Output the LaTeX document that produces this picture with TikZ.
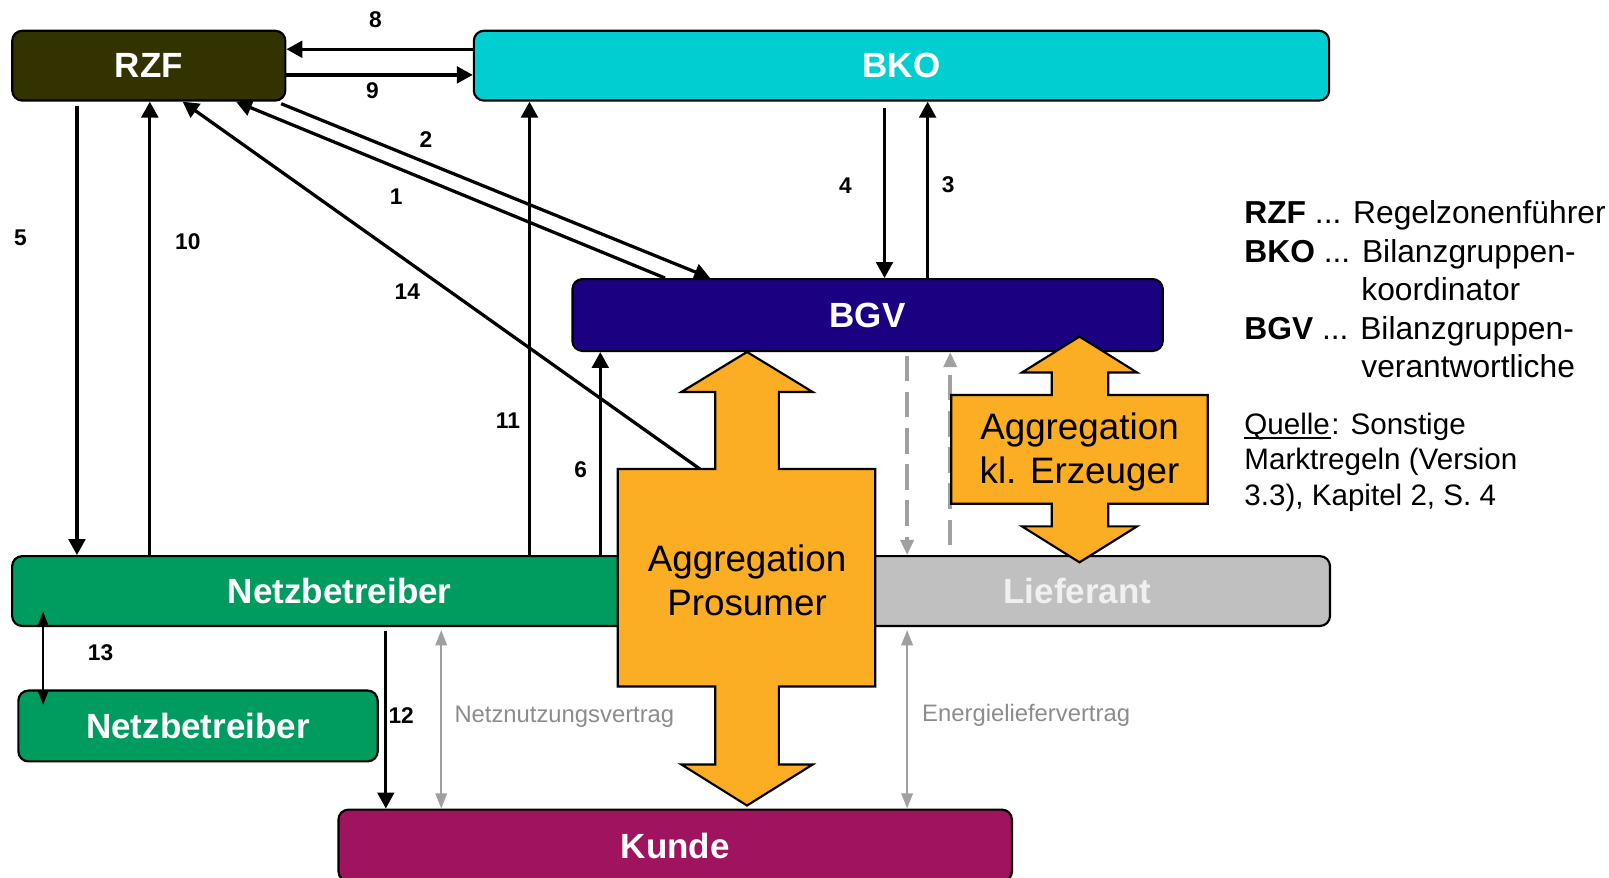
\documentclass[tikz,border=0pt]{standalone}
\usepackage{fontspec}
\setmainfont{Liberation Sans}
\usetikzlibrary{arrows.meta,calc}
\definecolor{rzfc}{RGB}{51,51,0}
\definecolor{bkoc}{RGB}{0,206,209}
\definecolor{bgvc}{RGB}{27,0,130}
\definecolor{nbc}{RGB}{0,155,95}
\definecolor{liefc}{RGB}{192,192,192}
\definecolor{lieftxt}{RGB}{240,240,240}
\definecolor{kundec}{RGB}{160,20,95}
\definecolor{orangec}{RGB}{251,173,36}
\definecolor{grayarr}{RGB}{160,160,160}
\definecolor{graytxt}{RGB}{140,140,140}
\begin{document}
\begin{tikzpicture}[x=0.01cm,y=-0.01cm,
  box/.style={draw=black, line width=0.6pt, rounded corners=2.8pt, inner sep=0pt, text=white, font=\bfseries\fontsize{9.7}{11}\selectfont},
  arr/.style={line width=0.9pt, -{Triangle[length=4.4pt,width=4.6pt]}},
  thinarr/.style={line width=0.4pt, {Triangle[length=4pt,width=3pt]}-{Triangle[length=4pt,width=3pt]}},
  grayarr/.style={draw=grayarr, line width=0.45pt, {Triangle[length=4.2pt,width=3.2pt]}-{Triangle[length=4.2pt,width=3.2pt]}},
  dasharr/.style={draw=grayarr, line width=1pt, dash pattern=on 7pt off 3pt, -{Triangle[length=4.2pt,width=3.6pt]}},
  num/.style={font=\bfseries\fontsize{6.3}{7}\selectfont, inner sep=0pt},
  agg/.style={draw=black, line width=0.6pt, fill=orangec},
  aggtxt/.style={align=center, font=\fontsize{10.2}{12.2}\selectfont},
  leg/.style={anchor=base west, inner sep=0pt, font=\fontsize{8.8}{10}\selectfont},
  src/.style={anchor=base west, inner sep=0pt, font=\fontsize{8.2}{10}\selectfont},
  glbl/.style={text=graytxt, font=\fontsize{6.6}{8}\selectfont, inner sep=0pt}
]
\useasboundingbox (0,0) rectangle (1568,855);

% boxes
\node[box, fill=rzfc, minimum width=2.66cm, minimum height=0.68cm] (rzf) at (145,64) {RZF};
\node[box, fill=bkoc, minimum width=8.33cm, minimum height=0.68cm] (bko) at (878.5,64) {BKO};
\node[box, fill=bgvc, minimum width=5.75cm, minimum height=0.70cm] (bgv) at (845.5,307) {BGV};
\node[box, fill=liefc, text=lieftxt, minimum width=4.92cm, minimum height=0.68cm] (lief) at (1050,576) {Lieferant};
\node[box, fill=nbc, minimum width=6.38cm, minimum height=0.68cm] (nb) at (331,576) {Netzbetreiber};
\node[box, fill=nbc, minimum width=3.50cm, minimum height=0.69cm] (nb2) at (193,707.5) {Netzbetreiber};
\node[box, fill=kundec, minimum width=6.56cm, minimum height=0.70cm] (kunde) at (658,824) {Kunde};

% black arrows
\draw[arr] (bko.west |- 0,48) -- (rzf.east |- 0,48);
\draw[arr] (rzf.east |- 0,73) -- (bko.west |- 0,73);
\draw[arr] (75,0 |- rzf.south) ++(0,4) -- (75,0 |- nb.north);
\draw[arr] (146,0 |- nb.north) -- (146,0 |- rzf.south);
\draw[arr] (516,0 |- nb.north) -- (516,0 |- bko.south);
\draw[arr] (585,0 |- nb.north) -- (585,0 |- bgv.south);
\draw[arr] (862,0 |- bko.south) ++(0,6) -- (862,0 |- bgv.north);
\draw[arr] (904,0 |- bgv.north) -- (904,0 |- bko.south);
\draw[arr] (274,0 |- rzf.south) ++(0,2) -- (692,0 |- bgv.north);
\draw[arr] (648,0 |- bgv.north) -- (230,0 |- rzf.south);
\coordinate (p14) at (682,457);
\draw[arr] (p14) -- (178,0 |- rzf.south);
\draw[thinarr] ($(42,0 |- nb.south)+(0,-15)$) -- ($(42,0 |- nb2.north)+(0,15)$);
\draw[arr, line width=0.75pt] (376,0 |- nb.south) ++(0,4) -- (376,0 |- kunde.north);

% gray arrows
\draw[grayarr] ($(430,0 |- nb.south)+(0,3)$) -- (430,0 |- kunde.north);
\draw[grayarr] ($(884,0 |- lief.south)+(0,3)$) -- (884,0 |- kunde.north);
\draw[dasharr] ($(884,0 |- bgv.south)+(0,4)$) -- (884,0 |- lief.north);
\draw[dasharr] ($(926,0 |- lief.north)+(0,-10)$) -- (926,0 |- bgv.south);

% orange aggregation arrows
\draw[agg] (728,343) -- (792,382) -- (759,382) -- (759,457) -- (853,457) -- (853,669) -- (759,669) -- (759,745) -- (792,745) -- (728,785) -- (664,745) -- (697,745) -- (697,669) -- (602,669) -- (602,457) -- (697,457) -- (697,382) -- (664,382) -- cycle;
\node[aggtxt] (aggp) at (728,566) {Aggregation\\Prosumer};
\draw[agg] (1052,328) -- (1108,363) -- (1080,363) -- (1080,385) -- (1177,385) -- (1177,491) -- (1080,491) -- (1080,513) -- (1108,513) -- (1052,548) -- (996,513) -- (1025,513) -- (1025,491) -- (927,491) -- (927,385) -- (1025,385) -- (1025,363) -- (996,363) -- cycle;
\node[aggtxt] (agge) at (1052,440) {Aggregation\\kl. Erzeuger};

% numbers
\node[num] (n8) at (366,19) {8};
\node[num] (n9) at (363,88) {9};
\node[num] (n2) at (415,136) {2};
\node[num] (n1) at (386,192) {1};
\node[num] (n5) at (20,232) {5};
\node[num] (n10) at (183,236) {10};
\node[num] (n14) at (397,284) {14};
\node[num] (n4) at (824,181) {4};
\node[num] (n3) at (924,180) {3};
\node[num] (n11) at (495,410) {11};
\node[num] (n6) at (566,458) {6};
\node[num] (n13) at (98,636) {13};
\node[num] (n12) at (391,697) {12};

% gray labels
\node[glbl] (nnv) at (550,699) {Netznutzungsvertrag};
\node[glbl] (elv) at (1000,697) {Energieliefervertrag};

% legend
\node[leg] (l1) at (1212,218) {\textbf{RZF} ... Regelzonenführer};
\node[leg] (l2) at (1212,256) {\textbf{BKO} ... Bilanzgruppen-};
\node[leg] (l3) at (1326,293) {koordinator};
\node[leg] (l4) at (1212,331) {\textbf{BGV} ... Bilanzgruppen-};
\node[leg] (l5) at (1326,368) {verantwortliche};
\node[src] (s1q) at (1212,423) {Quelle};
\node[src] (s1) at (s1q.base east) {: Sonstige};
\draw[line width=0.5pt] ($(s1q.base west)+(0,4)$) -- ($(s1q.base east)+(0,4)$);
\node[src] (s2) at (1212,458) {Marktregeln (Version};
\node[src] (s3) at (1212,493) {3.3), Kapitel 2, S. 4};
\end{tikzpicture}
\end{document}
